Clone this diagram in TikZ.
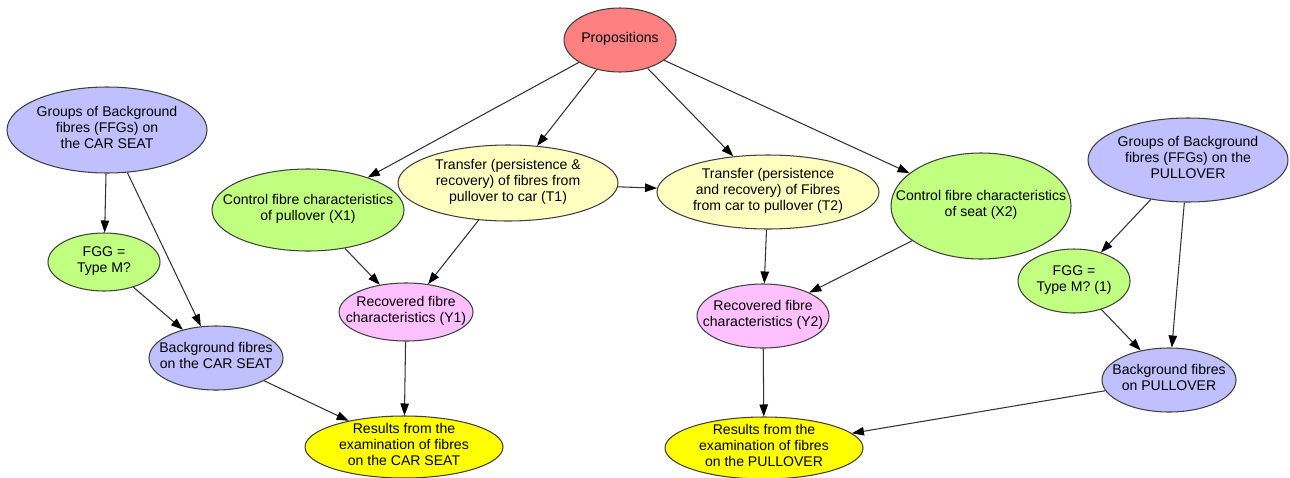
\documentclass[tikz,border=0pt]{standalone}
\usepackage{fontspec}
\setmainfont{Liberation Sans}
\usetikzlibrary{shapes.geometric,arrows.meta}
\definecolor{propred}{HTML}{FF8080}
\definecolor{bgblue}{HTML}{C0C0FF}
\definecolor{ctlgreen}{HTML}{C0FF80}
\definecolor{trfyellow}{HTML}{FFFFC0}
\definecolor{recpink}{HTML}{FFC0FF}
\definecolor{resyellow}{HTML}{FFFF00}
\newcommand{\ntxt}[1]{\raisebox{-3pt}{\smash{\makebox[0pt]{\begin{tabular}{@{}c@{}}#1\end{tabular}}}}}
\begin{document}
\begin{tikzpicture}[x=0.02cm,y=-0.02cm,
  >={Triangle[length=0.24cm,width=0.17cm,color=black]},
  bubble/.style n args={3}{ellipse,draw=black!75,line width=0.6pt,fill=#1,
    inner sep=0pt,minimum width=2*#2*0.02cm,minimum height=2*#3*0.02cm,
    font=\fontsize{8}{9.1}\selectfont},
  link/.style={->,draw=black!80,line width=0.6pt}]
	  \useasboundingbox (0,0) rectangle (1290,477);
	  \node[bubble={propred}{56}{32}] (prop) at (620,40) {\ntxt{Propositions}};
	  \node[bubble={bgblue}{100}{43}] (gcar) at (107,130) {\ntxt{Groups of Background\\fibres (FFGs) on\\the CAR SEAT}};
	  \node[bubble={ctlgreen}{56}{29}] (fgg) at (104,262) {\ntxt{FGG =\\Type M?}};
	  \node[bubble={bgblue}{67}{32}] (bcar) at (216,358) {\ntxt{Background fibres\\on the CAR SEAT}};
	  \node[bubble={ctlgreen}{96}{41}] (x1) at (308,210) {\ntxt{Control fibre characteristics\\of pullover (X1)}};
	  \node[bubble={trfyellow}{110}{38}] (t1) at (508,183) {\ntxt{Transfer (persistence \&\\recovery) of fibres from\\pullover to car (T1)}};
	  \node[bubble={trfyellow}{111}{37}] (t2) at (768,192) {\ntxt{Transfer (persistence\\and recovery) of Fibres\\from car to pullover (T2)}};
	  \node[bubble={ctlgreen}{90}{53}] (x2) at (981,206) {\ntxt{Control fibre characteristics\\of seat (X2)}};
	  \node[bubble={bgblue}{100}{42}] (gpull) at (1188,160) {\ntxt{Groups of Background\\fibres (FFGs) on the\\PULLOVER}};
	  \node[bubble={ctlgreen}{56}{32}] (fgg1) at (1074,281) {\ntxt{FGG =\\Type M? (1)}};
	  \node[bubble={bgblue}{67}{32}] (bpull) at (1169,380) {\ntxt{Background fibres\\on PULLOVER}};
	  \node[bubble={recpink}{67}{29}] (y1) at (406,312) {\ntxt{Recovered fibre\\characteristics (Y1)}};
	  \node[bubble={recpink}{66}{32}] (y2) at (763,316) {\ntxt{Recovered fibre\\characteristics (Y2)}};
	  \node[bubble={resyellow}{99}{31}] (rcar) at (404,447) {\ntxt{Results from the\\examination of fibres\\on the CAR SEAT}};
	  \node[bubble={resyellow}{99}{31}] (rpull) at (764,448) {\ntxt{Results from the\\examination of fibres\\on the PULLOVER}};
	  % propositions
	  \draw[link] (prop) -- (x1);
	  \draw[link] (prop) -- (t1);
	  \draw[link] (prop) -- (t2);
	  \draw[link] (prop) -- (x2);
	  \draw[link] (t1) -- (t2);
	  % recovered fibres
	  \draw[link] (x1) -- (y1);
	  \draw[link] (t1) -- (y1);
	  \draw[link] (t2) -- (y2);
	  \draw[link] (x2) -- (y2);
	  \draw[link] (y1) -- (rcar);
	  \draw[link] (y2) -- (rpull);
	  % background
	  \draw[link] (gcar) -- (fgg);
	  \draw[link] (gcar) -- (bcar);
	  \draw[link] (fgg) -- (bcar);
	  \draw[link] (bcar) -- (rcar);
	  \draw[link] (gpull) -- (fgg1);
	  \draw[link] (gpull) -- (bpull);
	  \draw[link] (fgg1) -- (bpull);
	  \draw[link] (bpull) -- (rpull);
	\end{tikzpicture}
\end{document}
